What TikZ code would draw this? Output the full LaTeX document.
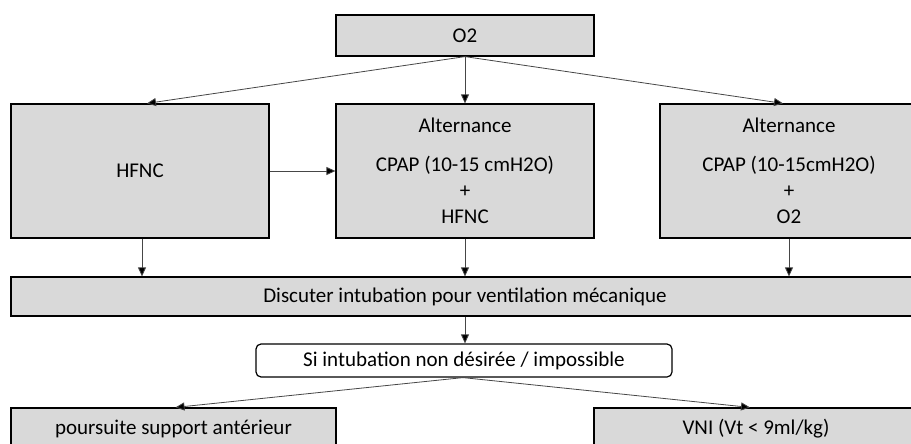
\documentclass[tikz,border=0pt]{standalone}
\usepackage{fontspec}
\setmainfont{Carlito}
\usetikzlibrary{arrows.meta}
\definecolor{boxgray}{RGB}{217,217,217}
\definecolor{linegray}{RGB}{70,70,70}

\begin{document}
\begin{tikzpicture}[x=1pt,y=1pt,
    box/.style={draw=black,line width=1.2pt,fill=boxgray,inner sep=0pt,
      align=center,font=\fontsize{21}{26}\selectfont},
    pil/.style={draw=linegray,line width=0.8pt,-{Triangle[length=9pt,width=8pt,fill=black]}}]
  \useasboundingbox (0,0) rectangle (911,-444);
  \clip (0,0) rectangle (911,-444);
   \coordinate (Top) at (465,-35.5);
  % first row
  \node[box,minimum width=258pt,minimum height=41pt] (otwo) at (Top) {O2};
  \node[box,minimum width=258pt,minimum height=134pt] (hfnc) at (140,-171) {HFNC};
  \node[box,minimum width=258pt,minimum height=134pt] (altone) at (465,-171)
     {Alternance\\[13pt]CPAP (10-15 cmH2O)\\+\\HFNC};
  \node[box,minimum width=258pt,minimum height=134pt] (alttwo) at (789,-171)
     {Alternance\\[13pt]CPAP (10-15cmH2O)\\+\\O2};
  % decision
  \node[box,minimum width=908pt,minimum height=39pt] (disc) at (465,-296.5)
     {Discuter intubation pour ventilation mécanique};
  \node[box,fill=white,rounded corners=5pt,minimum width=416pt,minimum height=33pt] (si) at (464,-360.5)
     {Si intubation non désirée / impossible};
  \node[box,minimum width=325pt,minimum height=42pt] (suite) at (173.5,-429)
     {poursuite support antérieur};
  \node[box,minimum width=324pt,minimum height=42pt] (vni) at (756,-429)
     {VNI (Vt < 9ml/kg)};
  % arrows
  \draw[pil] (otwo.south) -- ([xshift=7pt]hfnc.north);
  \draw[pil] (otwo.south) -- (altone.north);
  \draw[pil] (otwo.south) -- ([xshift=-6pt]alttwo.north);
  \draw[pil] (hfnc.east) -- (altone.west);
  \draw[pil] ([xshift=2pt]hfnc.south) -- ([xshift=2pt]hfnc.south |- disc.north);
  \draw[pil] (altone.south) -- (altone.south |- disc.north);
  \draw[pil] (alttwo.south) -- (alttwo.south |- disc.north);
  \draw[pil] (disc.south) -- (disc.south |- si.north);
  \draw[pil] ([xshift=-1pt]si.south) -- ([xshift=2pt]suite.north);
  \draw[pil] ([xshift=-1pt]si.south) -- ([xshift=-6pt]vni.north);
 \end{tikzpicture}
\end{document}
